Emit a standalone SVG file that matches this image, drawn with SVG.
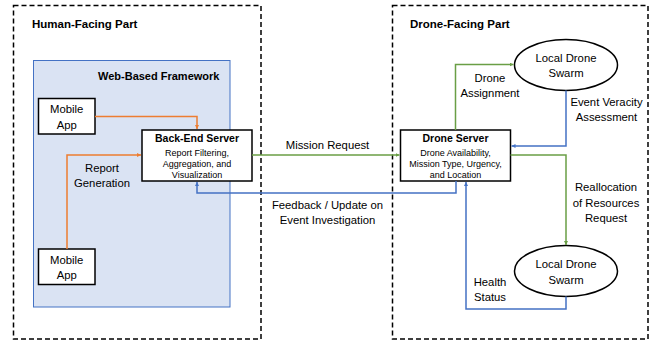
<svg xmlns="http://www.w3.org/2000/svg" width="652" height="341" viewBox="0 0 652 341">
<style>
text{font-family:"Liberation Sans",Arial,sans-serif;fill:#000}
.t{font-size:11.3px;text-anchor:middle}
.h{font-size:11.5px;font-weight:bold}
.b{font-size:10.5px;font-weight:bold;text-anchor:middle}
.s{font-size:9px;text-anchor:middle}
.dash{fill:none;stroke:#000;stroke-width:1.5;stroke-dasharray:5 3}
.box{fill:#fff;stroke:#000;stroke-width:1.5}
.o{fill:none;stroke:#ED7D31;stroke-width:1.5}
.g{fill:none;stroke:#6A9E45;stroke-width:1.5}
.bl{fill:none;stroke:#4472C4;stroke-width:1.5}
</style>
<defs>
<marker id="ao" viewBox="0 0 6 6" refX="6" refY="3" markerWidth="4" markerHeight="4" orient="auto" markerUnits="userSpaceOnUse"><path d="M0,0L6,3L0,6z" fill="#ED7D31"/></marker>
<marker id="ag" viewBox="0 0 6 6" refX="6" refY="3" markerWidth="4" markerHeight="4" orient="auto" markerUnits="userSpaceOnUse"><path d="M0,0L6,3L0,6z" fill="#6A9E45"/></marker>
<marker id="ab" viewBox="0 0 6 6" refX="6" refY="3" markerWidth="4" markerHeight="4" orient="auto" markerUnits="userSpaceOnUse"><path d="M0,0L6,3L0,6z" fill="#4472C4"/></marker>
</defs>
<g id="human-part">
<rect class="dash" x="13.5" y="5.5" width="247.5" height="333.5"/>
<text class="h" x="32" y="28">Human-Facing Part</text>
</g>
<g id="drone-part">
<rect class="dash" x="392.5" y="5.5" width="255.5" height="333.5"/>
<text class="h" x="410" y="28">Drone-Facing Part</text>
</g>
<g id="web-framework">
<rect x="33.5" y="60.5" width="196.5" height="246.5" fill="#DAE3F3" stroke="#4472C4" stroke-width="1"/>
<text class="h" x="98" y="80" style="font-size:11px">Web-Based Framework</text>
</g>
<g id="mobile-app-1">
<rect class="box" x="38.5" y="98.5" width="56.5" height="35.5"/>
<text class="t" x="66.7" y="113">Mobile</text>
<text class="t" x="66.7" y="129">App</text>
</g>
<g id="mobile-app-2">
<rect class="box" x="38.5" y="249" width="56.5" height="35.5"/>
<text class="t" x="66.7" y="264">Mobile</text>
<text class="t" x="66.7" y="279">App</text>
</g>
<g id="back-end-server">
<rect class="box" x="142" y="130" width="110" height="51"/>
<text class="b" x="197" y="142">Back-End Server</text>
<text class="s" x="197" y="156">Report Filtering,</text>
<text class="s" x="197" y="167">Aggregation, and</text>
<text class="s" x="197" y="178">Visualization</text>
</g>
<g id="drone-server">
<rect class="box" x="400.5" y="130" width="110" height="51"/>
<text class="b" x="455.5" y="142">Drone Server</text>
<text class="s" x="455.5" y="156">Drone Availability,</text>
<text class="s" x="455.5" y="167">Mission Type, Urgency,</text>
<text class="s" x="455.5" y="178">and Location</text>
</g>
<g id="swarm-top">
<ellipse cx="566" cy="65" rx="51.5" ry="25.5" fill="#fff" stroke="#000" stroke-width="1.5"/>
<text class="t" x="566" y="62">Local Drone</text>
<text class="t" x="566" y="77">Swarm</text>
</g>
<g id="swarm-bottom">
<ellipse cx="566" cy="271" rx="51.5" ry="25.5" fill="#fff" stroke="#000" stroke-width="1.5"/>
<text class="t" x="566" y="268">Local Drone</text>
<text class="t" x="566" y="284">Swarm</text>
</g>
<g id="connectors">
<path class="o" d="M95,116.5H197V129" marker-end="url(#ao)"/>
<path class="o" d="M67,249V155H141" marker-end="url(#ao)"/>
<text class="t" x="102" y="172">Report</text>
<text class="t" x="102" y="187">Generation</text>
<path class="g" d="M252,155H399.5" marker-end="url(#ag)"/>
<text class="t" x="327.5" y="149">Mission Request</text>
<path class="bl" d="M456,181V193H197V182" marker-end="url(#ab)"/>
<text class="t" x="327.5" y="209">Feedback / Update on</text>
<text class="t" x="327.5" y="224">Event Investigation</text>
<path class="g" d="M455.5,130V64.5H513.5" marker-end="url(#ag)"/>
<text class="t" x="490" y="82">Drone</text>
<text class="t" x="490" y="97">Assignment</text>
<path class="bl" d="M566,90.5V146H511.5" marker-end="url(#ab)"/>
<text class="t" x="606.5" y="106">Event Veracity</text>
<text class="t" x="606.5" y="121">Assessment</text>
<path class="g" d="M510.5,155H566V245" marker-end="url(#ag)"/>
<text class="t" x="606" y="191">Reallocation</text>
<text class="t" x="606" y="207">of Resources</text>
<text class="t" x="606" y="222">Request</text>
<path class="bl" d="M566,296.5V309H466V182" marker-end="url(#ab)"/>
<text class="t" x="490" y="286">Health</text>
<text class="t" x="490" y="301">Status</text>
</g>
</svg>
